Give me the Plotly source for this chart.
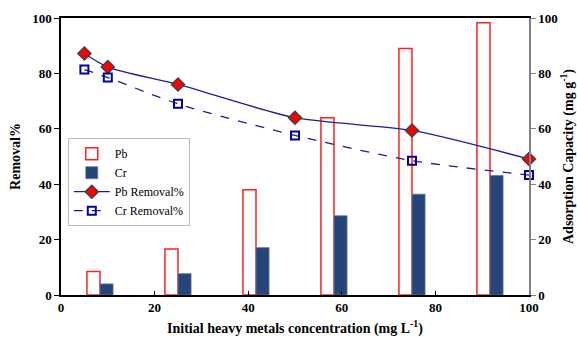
import plotly.graph_objects as go

# Data
conc = [5, 10, 25, 50, 75, 100]
pb_removal = [87.2, 82.3, 76.0, 64.0, 59.4, 49.1]
cr_removal = [81.4, 78.5, 69.0, 57.6, 48.5, 43.3]
groups = ["5", "10", "25", "50", "75", "100"]
pb_capacity = [8.5, 16.6, 38.0, 64.0, 89.0, 98.3]
cr_capacity = [4.0, 7.7, 17.1, 28.6, 36.4, 43.1]

FONT = "Liberation Serif"
LINE = "#1C1C9C"

fig = go.Figure()

# Bars on base axes (x: category, y: right side)
fig.add_trace(go.Bar(x=groups, y=pb_capacity, name="Pb", xaxis="x", yaxis="y",
                     marker=dict(color="white", line=dict(color="#FF2020", width=1.5))))
fig.add_trace(go.Bar(x=groups, y=cr_capacity, name="Cr", xaxis="x", yaxis="y",
                     marker=dict(color="#264478", line=dict(color="#5A7AA8", width=0.8))))

# Lines on overlaying axes (drawn on top)
fig.add_trace(go.Scatter(x=conc, y=pb_removal, name="Pb Removal%", xaxis="x2", yaxis="y2",
                         mode="lines+markers", cliponaxis=False,
                         line=dict(color=LINE, width=1.3, shape="spline", smoothing=0.7),
                         marker=dict(symbol="diamond", size=10, color="#FF0000",
                                     line=dict(color="#404040", width=1.5))))
fig.add_trace(go.Scatter(x=conc, y=cr_removal, name="Cr Removal%", xaxis="x2", yaxis="y2",
                         mode="lines+markers", cliponaxis=False,
                         line=dict(color=LINE, width=1.3, dash="dash", shape="spline", smoothing=0.7),
                         marker=dict(symbol="square-open", size=8, color="#00009A",
                                     line=dict(color="#00009A", width=2))))


def tickfont():
    return dict(family=FONT, size=13, color="black", weight="bold")


def titlefont():
    return dict(family=FONT, size=14, color="black", weight="bold")


fig.update_layout(
    width=577, height=337,
    font=dict(family=FONT, color="black", size=13),
    margin=dict(l=61, r=48, t=18, b=42, autoexpand=False),
    plot_bgcolor="white", paper_bgcolor="white",
    barmode="group", bargap=0.665, bargroupgap=0,
    showlegend=True,
    legend=dict(x=0.0145, y=0.566, xanchor="left", yanchor="top",
                bgcolor="white", bordercolor="#BDBDBD", borderwidth=1,
                font=dict(family=FONT, size=12, color="black"),
                tracegroupgap=0, itemwidth=36),
    xaxis=dict(type="category", visible=False, showgrid=False),
    yaxis=dict(side="right", range=[0, 100], dtick=20, showgrid=False, zeroline=False,
               showline=True, linecolor="#808080", linewidth=1.5,
               ticks="outside", ticklen=5, tickcolor="#808080",
               showticklabels=True, tickfont=tickfont(), automargin=False,
               title=dict(text="Adsorption Capacity (mg g<sup>-1</sup>)", font=titlefont(), standoff=6)),
    xaxis2=dict(overlaying="x", range=[0, 100], dtick=20, showgrid=False, zeroline=False,
                showline=True, linecolor="black", linewidth=1.5, mirror=True,
                ticks="inside", ticklen=4, tickcolor="black",
                showticklabels=True, tickfont=tickfont(), automargin=False,
                title=dict(text="Initial heavy metals concentration (mg L<sup>-1</sup>)",
                           font=titlefont(), standoff=11)),
    yaxis2=dict(overlaying="y", side="left", range=[0, 100], dtick=20, showgrid=False, zeroline=False,
                showline=True, linecolor="black", linewidth=1.5,
                ticks="outside", ticklen=5, tickcolor="black",
                showticklabels=True, tickfont=tickfont(), automargin=False,
                title=dict(text="Removal%", font=titlefont(), standoff=8)),
)

fig.write_html("out.html")
